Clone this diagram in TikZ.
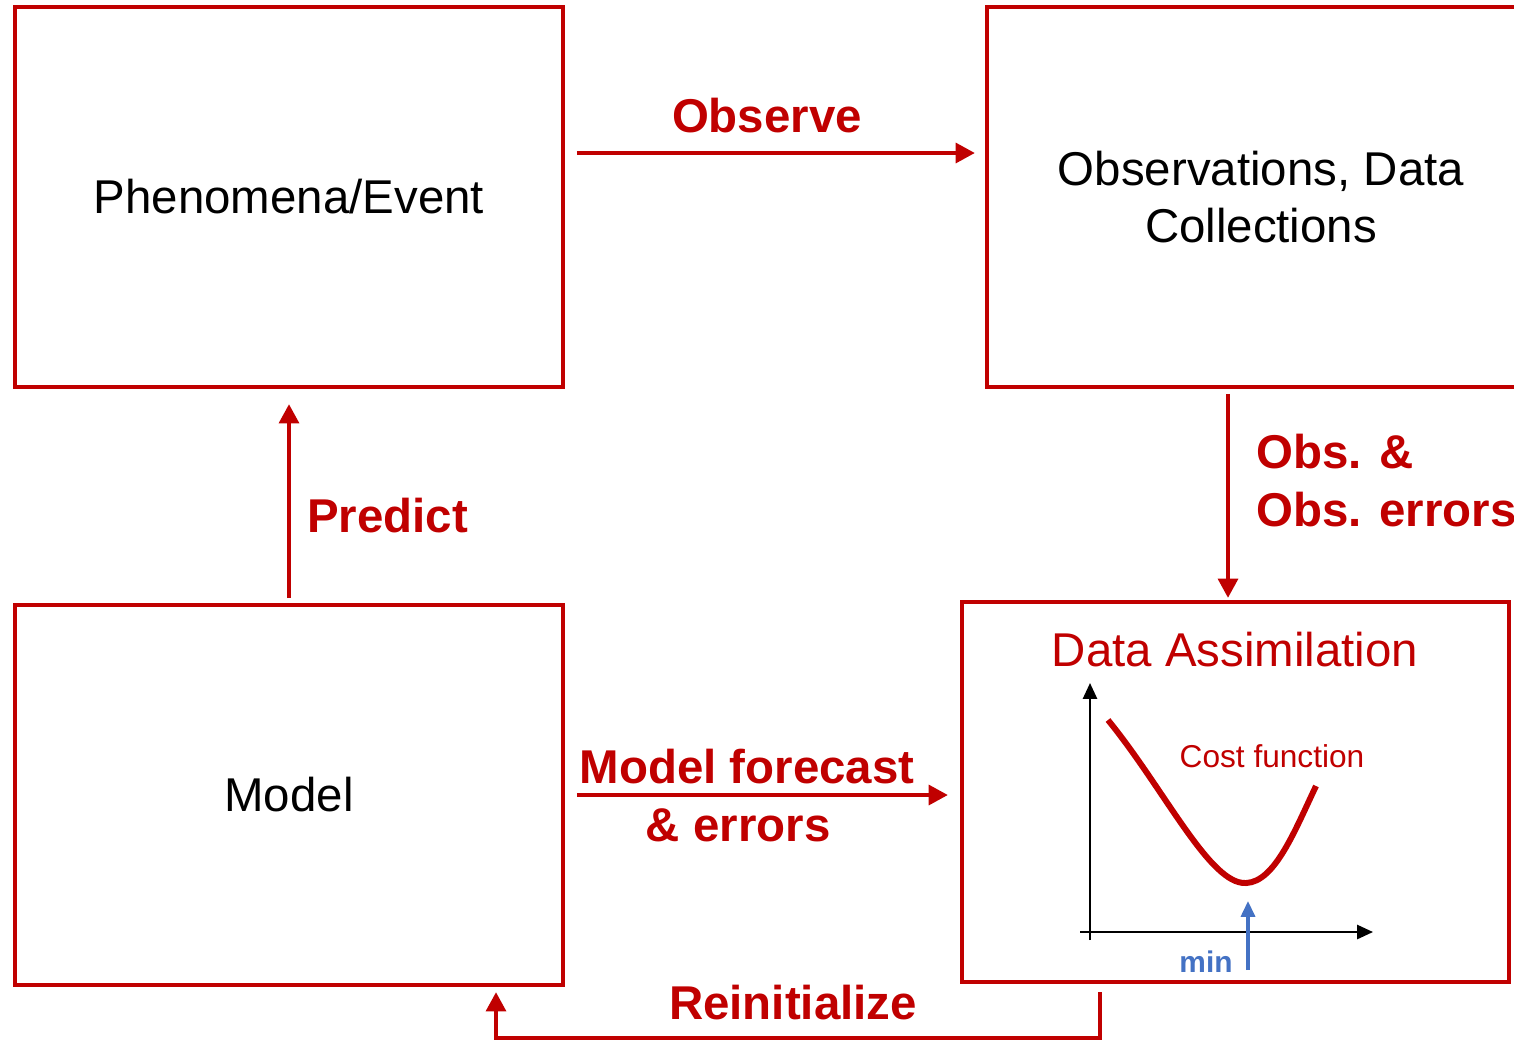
\documentclass[tikz,border=0pt]{standalone}
\usepackage{fontspec}
\setmainfont{Liberation Sans}
\usetikzlibrary{arrows.meta}
\definecolor{darkred}{HTML}{C00000}
\definecolor{minblue}{HTML}{4472C4}
\tikzset{
    box/.style={draw=darkred,line width=2.3pt,minimum width=10.96cm,minimum height=7.6cm,font=\fontsize{27}{32.5}\selectfont,align=center},
    arr/.style={draw=darkred,line width=2.8pt,-{Triangle[length=11pt,width=11pt]}},
    lbl/.style={text=darkred,font=\fontsize{27}{33}\selectfont\bfseries,inner sep=0pt},
    axis/.style={line width=1.2pt,-{Triangle[length=9pt,width=8pt]}}
}
\begin{document}
\begin{tikzpicture}[x=0.02cm,y=-0.02cm]
        \useasboundingbox (0,0) rectangle (1514,1039);
        \clip (0,0) rectangle (1514,1039);
        \node[box] (phen) at (289,197) {Phenomena/Event};
        \node[box] (obs) at (1261,197) {Observations, Data\\Collections};
        \node[box] (model) at (289,795) {Model};
        \node[box,minimum width=10.94cm] (da) at (1235.5,792) {};
        \node[text=darkred,font=\fontsize{27}{32}\selectfont] (datitle) at (1235,650) {Data Assimilation};
        \draw[arr] ([shift={(12,-44)}]phen.east) -- ([shift={(-10,-44)}]obs.west);
        \node[lbl] (observe) at (767,116) {Observe};
        \draw[arr] ([shift={(0,-5)}]model.north) -- ([shift={(0,15)}]phen.south);
        \node[lbl,anchor=west] (predict) at (307,516) {Predict};
        \draw[arr] ([shift={(-33,5)}]obs.south) -- ([shift={(-7.5,-2)}]da.north);
        \node[lbl,anchor=west,align=left] (obserr) at (1256,481) {Obs. \&\\Obs. errors};
        \draw[arr] ([shift={(12,0)}]model.east) -- ([shift={(-12,3)}]da.west);
        \node[lbl,align=center] (forecast) at (747,796) {Model forecast\\\hspace*{-10pt}\& errors};
        \draw[arr] ([shift={(-135.5,8)}]da.south) -- ++(0,46) -| ([shift={(207,5)}]model.south);
        \node[lbl] (reinit) at (793,1003) {Reinitialize};
        \begin{scope}
            \draw[axis] (1090,940) -- (1090,683);
            \draw[axis] (1080,932) -- (1373,932);
            \draw[darkred,line width=3.4pt] (1108,720) .. controls (1165,790) and (1210,885) .. (1246,883)
                .. controls (1275,882) and (1295,830) .. (1316,786);
            \node[text=darkred,font=\fontsize{18}{20}\selectfont] (cost) at (1272,756) {Cost function};
            \coordinate (m) at (1248,970);
            \draw[draw=minblue,line width=1.8pt,-{Triangle[length=9pt,width=8pt]}] (m) -- (1248,901);
            \node[text=minblue,font=\fontsize{17}{20}\selectfont\bfseries] (minlbl) at (1206,962) {min};
        \end{scope}
    \end{tikzpicture}
\end{document}
